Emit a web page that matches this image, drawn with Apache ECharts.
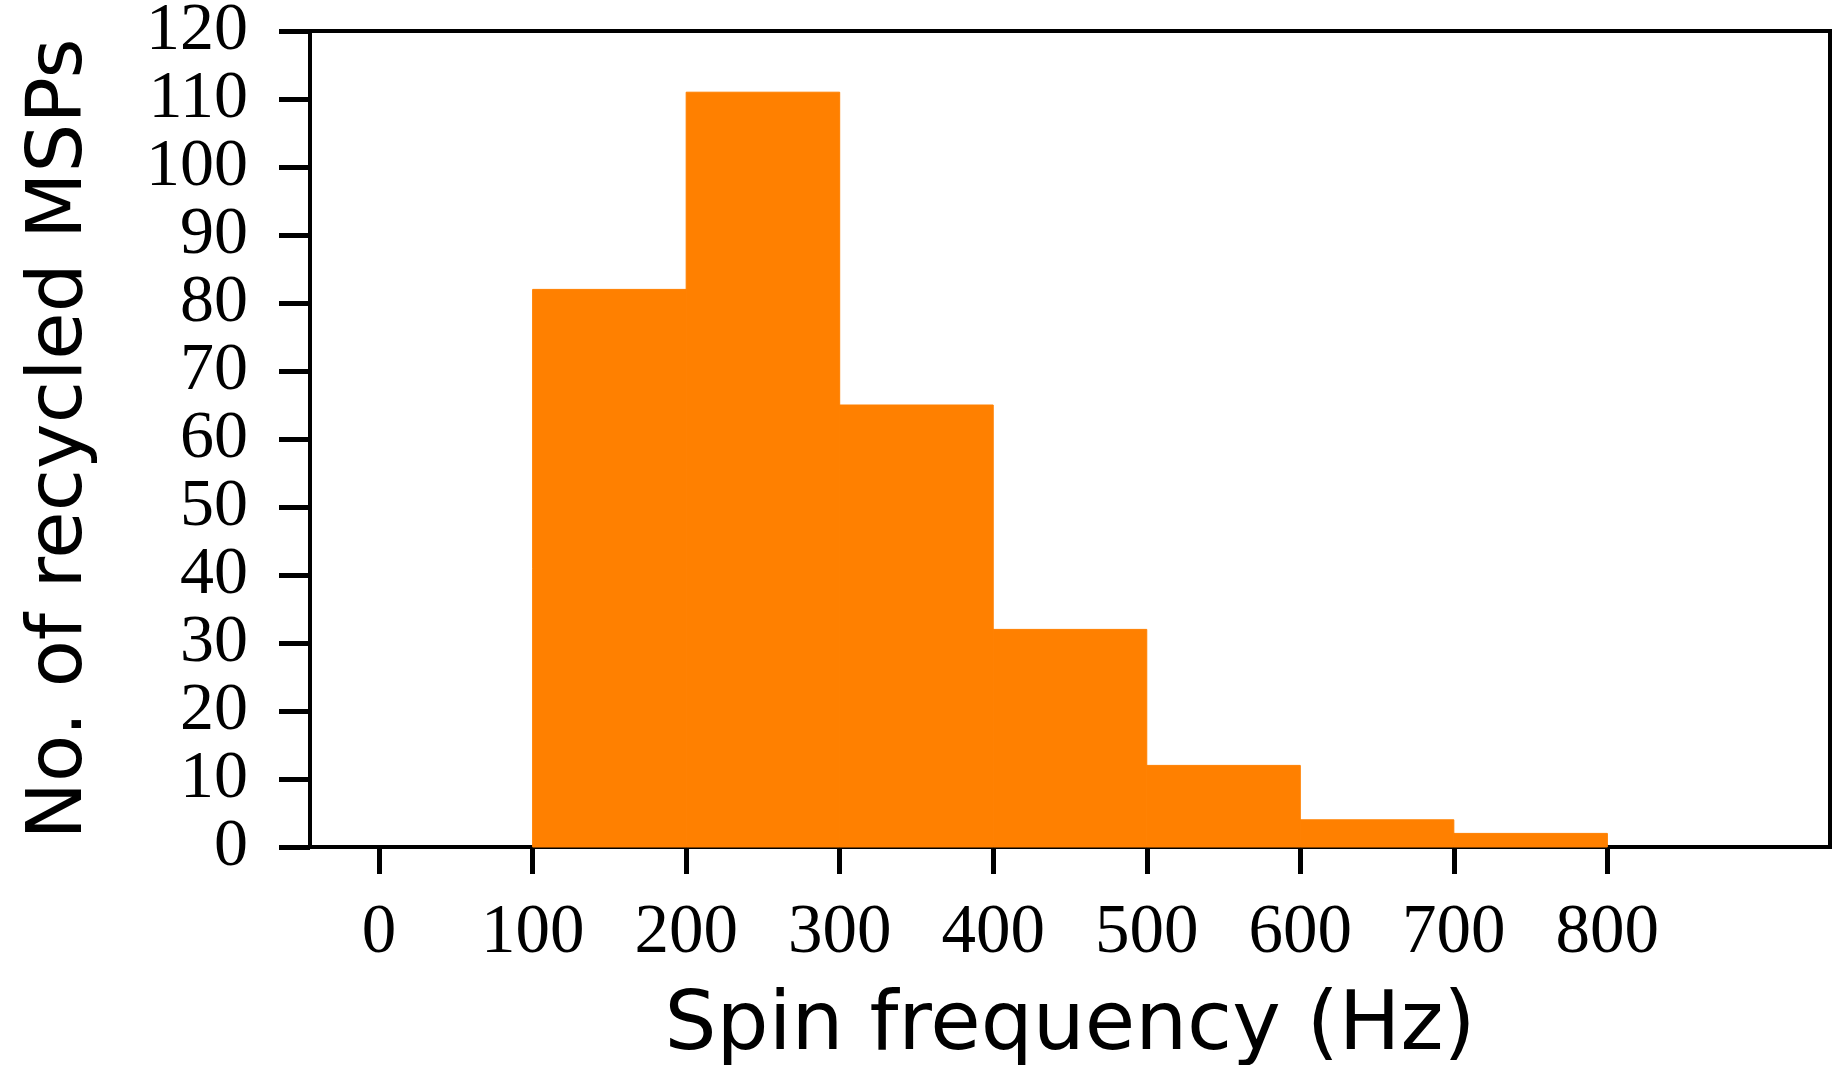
<!DOCTYPE html>
<html>
<head>
<meta charset="utf-8">
<script src="https://cdn.jsdelivr.net/npm/echarts@6/dist/echarts.min.js"></script>
<style>html,body{margin:0;padding:0;background:#fff}#c{width:1833px;height:1065px}</style>
</head>
<body>
<div id="c"></div>
<script>
const binStarts = [100, 200, 300, 400, 500, 600, 700];
const binEnds   = [200, 300, 400, 500, 600, 700, 800];
const counts    = [82, 111, 65, 32, 12, 4, 2];
const xTicks    = [0, 100, 200, 300, 400, 500, 600, 700, 800];
const xTitle = 'Spin frequency (Hz)';
const yTitle = 'No. of recycled MSPs';

const data = binStarts.map((s, i) => [s, binEnds[i], counts[i]]);
const chart = echarts.init(document.getElementById('c'), null, {renderer: 'canvas'});
const serif = 'Liberation Serif';
const sans = 'DejaVu Sans';
chart.setOption({
  animation: false,
  backgroundColor: '#fff',
  grid: {left: 310, right: 3, top: 31, bottom: 218, show: true, borderColor: '#000', borderWidth: 4, backgroundColor: 'transparent', containLabel: false, outerBoundsMode: 'none'},
  xAxis: {
    type: 'value', min: -45, max: 945,
    splitLine: {show: false},
    axisLine: {show: true, onZero: false, lineStyle: {color: '#000', width: 4}},
    axisTick: {show: true, inside: false, length: 27, lineStyle: {color: '#000', width: 5}, customValues: xTicks},
    axisLabel: {show: true, customValues: xTicks, margin: 52, color: '#000', fontFamily: serif, fontSize: 69, showMinLabel: true, showMaxLabel: true},
    name: xTitle, nameLocation: 'middle', nameGap: 140,
    nameTextStyle: {color: '#000', fontFamily: sans, fontSize: 82}
  },
  yAxis: {
    type: 'value', min: 0, max: 120, interval: 10,
    splitLine: {show: false},
    axisLine: {show: true, onZero: false, lineStyle: {color: '#000', width: 4}},
    axisTick: {show: true, inside: false, length: 31, lineStyle: {color: '#000', width: 5}},
    axisLabel: {margin: 62, color: '#000', fontFamily: serif, fontSize: 68, showMinLabel: true, showMaxLabel: true},
    name: yTitle, nameLocation: 'middle', nameGap: 211, nameRotate: 90,
    nameTextStyle: {color: '#000', fontFamily: sans, fontSize: 77}
  },
  series: [{
    type: 'custom',
    data: data,
    encode: {x: [0, 1], y: 2},
    renderItem: function (params, api) {
      const p0 = api.coord([api.value(0), api.value(2)]);
      const p1 = api.coord([api.value(1), 0]);
      return {type: 'rect', shape: {x: p0[0], y: p0[1], width: p1[0] - p0[0], height: p1[1] - p0[1]}, style: {fill: '#FF8000', stroke: '#FF8000', lineWidth: 1}};
    }
  }]
});
</script>
</body>
</html>
